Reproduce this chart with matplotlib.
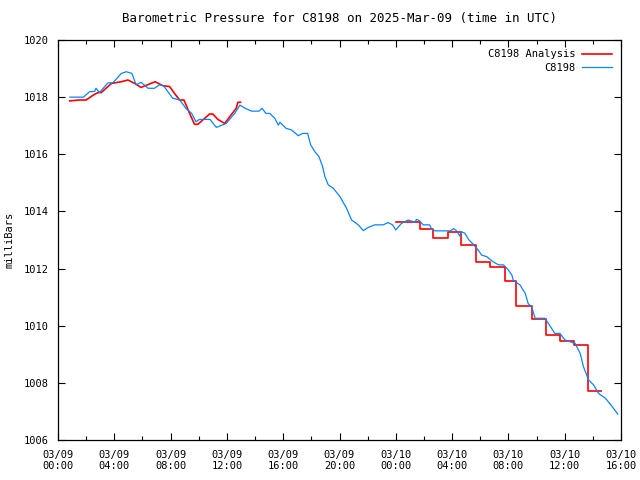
import matplotlib
matplotlib.use('Agg')
import matplotlib.pyplot as plt
from matplotlib.ticker import MultipleLocator

plt.rcParams['font.family'] = 'DejaVu Sans Mono'
plt.rcParams['font.size'] = 7.5

# hours since 03/09 00:00 UTC
blue_t = [0.85, 1.8, 2.25, 2.6, 2.7, 2.95, 3.55, 3.9, 4.5, 4.85, 5.25, 5.55, 5.9, 6.4, 6.85,
          7.2, 7.5, 8.15, 8.65, 9.1, 9.5, 9.8, 10.05, 10.8, 11.25, 11.95, 12.55, 12.92, 13.3,
          13.75, 14.28, 14.5, 14.77, 15.05, 15.4, 15.65, 15.77, 16.2, 16.6, 17.07, 17.38,
          17.74, 17.95, 18.25, 18.54, 18.8, 18.96, 19.2, 19.56, 20.03, 20.5, 20.86, 21.33,
          21.69, 22.04, 22.5, 23.1, 23.45, 23.77, 24.0, 24.4, 24.88, 25.35, 25.47, 25.66,
          25.95, 26.4, 26.55, 26.8, 27.9, 28.1, 28.3, 28.55, 28.65, 28.9, 29.2, 29.5, 29.85,
          30.1, 30.45, 30.9, 31.3, 31.65, 32.0, 32.25, 32.35, 32.82, 33.2, 33.4, 33.65, 33.9,
          34.1, 34.6, 34.84, 35.3, 35.66, 36.02, 36.38, 36.74, 37.1, 37.33, 37.7, 38.05,
          38.4, 38.9, 39.37, 39.77]
blue_p = [1018.0, 1018.0, 1018.19, 1018.2, 1018.31, 1018.16, 1018.5, 1018.5, 1018.83, 1018.89,
          1018.83, 1018.43, 1018.52, 1018.31, 1018.31, 1018.43, 1018.4, 1017.96, 1017.9,
          1017.6, 1017.43, 1017.14, 1017.22, 1017.22, 1016.94, 1017.08, 1017.43, 1017.72,
          1017.61, 1017.51, 1017.51, 1017.61, 1017.43, 1017.43, 1017.26, 1017.02, 1017.12,
          1016.91, 1016.85, 1016.65, 1016.73, 1016.73, 1016.33, 1016.09, 1015.92, 1015.57,
          1015.22, 1014.93, 1014.81, 1014.52, 1014.11, 1013.7, 1013.53, 1013.33, 1013.44,
          1013.53, 1013.53, 1013.61, 1013.53, 1013.35, 1013.58, 1013.7, 1013.62, 1013.72,
          1013.68, 1013.53, 1013.53, 1013.38, 1013.32, 1013.32, 1013.4, 1013.33, 1013.14,
          1013.29, 1013.24, 1013.0, 1012.85, 1012.65, 1012.47, 1012.42, 1012.24, 1012.13,
          1012.13, 1011.95, 1011.77, 1011.58, 1011.43, 1011.13, 1010.78, 1010.66, 1010.26,
          1010.26, 1010.26, 1010.08, 1009.73, 1009.73, 1009.5, 1009.44, 1009.38, 1009.03,
          1008.57, 1008.1, 1007.93, 1007.63, 1007.46, 1007.17, 1006.91]

# analysis, first part (continuous)
red_t1 = [0.83, 1.54, 2.0, 2.5, 2.84, 3.07, 3.8, 4.5, 4.97, 5.45, 5.9, 6.5, 6.9, 7.45, 7.93,
          8.28, 8.64, 8.95, 9.35, 9.7, 9.94, 10.77, 11.0, 11.36, 11.84, 12.3, 12.66, 12.78, 12.97]
red_p1 = [1017.87, 1017.9, 1017.9, 1018.07, 1018.16, 1018.16, 1018.48, 1018.54, 1018.6,
          1018.48, 1018.34, 1018.46, 1018.54, 1018.4, 1018.37, 1018.13, 1017.9, 1017.9,
          1017.43, 1017.05, 1017.05, 1017.41, 1017.41, 1017.22, 1017.08, 1017.38, 1017.61,
          1017.82, 1017.82]

# analysis, second part (stepped)
red_t2 = [24.0, 25.7, 26.65, 27.7, 28.6, 29.7, 30.7, 31.75, 32.55, 33.7, 34.7, 35.7, 36.65,
          37.65, 38.6]
red_p2 = [1013.62, 1013.38, 1013.06, 1013.27, 1012.83, 1012.22, 1012.05, 1011.57, 1010.69,
          1010.22, 1009.67, 1009.47, 1009.31, 1007.71, 1007.71]

red = '#ff0000'
blue = '#0a84ff'

fig = plt.figure(figsize=(6.4, 4.8), dpi=100)
ax = fig.add_axes([58 / 640, 40 / 480, 563 / 640, 400 / 480])

ax.plot(red_t1, red_p1, color=red, lw=1.2, label='C8198 Analysis')
ax.plot(red_t2, red_p2, color=red, lw=1.2, drawstyle='steps-post')
ax.plot(blue_t, blue_p, color=blue, lw=0.9, label='C8198')

ax.set_xlim(0, 40)
ax.set_ylim(1006, 1020)
ax.xaxis.set_major_locator(MultipleLocator(4))
ax.xaxis.set_minor_locator(MultipleLocator(2))
ax.yaxis.set_major_locator(MultipleLocator(2))
days = ['03/09'] * 6 + ['03/10'] * 5
hours = ['00:00', '04:00', '08:00', '12:00', '16:00', '20:00',
         '00:00', '04:00', '08:00', '12:00', '16:00']
ax.set_xticks(range(0, 41, 4))
ax.set_xticklabels([d + '\n' + h for d, h in zip(days, hours)])
ax.tick_params(which='both', direction='in', top=True, right=True, width=0.8)
ax.tick_params(which='major', length=5, pad=7)
ax.tick_params(which='minor', length=3)
for s in ax.spines.values():
    s.set_linewidth(0.9)

ax.set_ylabel('milliBars', labelpad=6)
ax.set_title('Barometric Pressure for C8198 on 2025-Mar-09 (time in UTC)', pad=13)
ax.legend(loc='upper right', frameon=False, markerfirst=False, handlelength=2.8,
          borderaxespad=0.5, labelspacing=0.35, handletextpad=0.7)

fig.savefig('out.png', dpi=100)
